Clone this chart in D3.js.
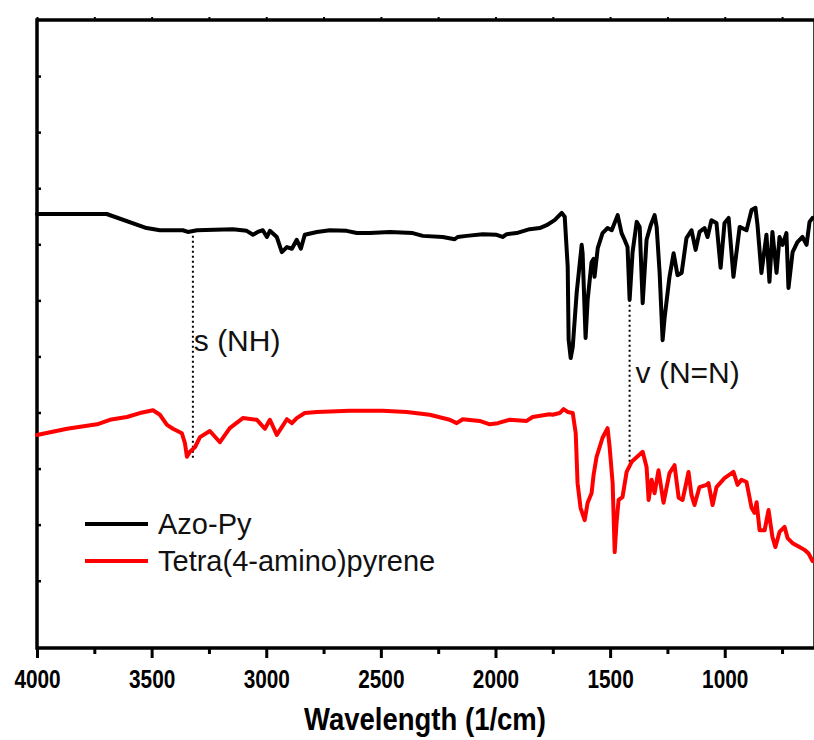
<!DOCTYPE html>
<html>
<head>
<meta charset="utf-8">
<script src="https://cdn.jsdelivr.net/npm/d3@7"></script>
<style>
  html, body { margin: 0; padding: 0; background: #fff; }
  #chart { width: 814px; height: 740px; overflow: hidden; }
</style>
</head>
<body>
<div id="chart"></div>
<script>
// wavenumber (1/cm), transmittance (a.u.)
const azoPy = [
  [4000, 65.4], [3696, 65.4], [3522, 62.9], [3464, 62.5], [3364, 62.5], [3342, 62.2],
  [3302, 62.5], [3146, 62.7], [3085, 62.4], [3058, 61.7], [3037, 62.2], [3015, 62.5],
  [2997, 61.3], [2984, 62.4], [2954, 61.3], [2932, 58.6], [2910, 59.5], [2888, 59.2],
  [2867, 60.8], [2849, 59.2], [2832, 61.7], [2779, 62.2], [2723, 62.5], [2649, 62.4],
  [2605, 62.0], [2548, 62.0], [2461, 62.2], [2361, 62.0], [2317, 61.5], [2230, 61.3],
  [2178, 60.9], [2165, 61.3], [2126, 61.5], [2056, 61.8], [1995, 61.7], [1969, 61.3],
  [1951, 61.8], [1908, 62.0], [1851, 62.7], [1807, 62.9], [1777, 63.4], [1742, 64.3],
  [1711, 65.6], [1698, 64.9], [1685, 56.0], [1681, 43.0], [1672, 39.7], [1663, 41.7],
  [1646, 51.3], [1624, 59.9], [1620, 58.4], [1607, 43.3], [1598, 50.1], [1581, 56.8],
  [1572, 57.4], [1568, 54.2], [1554, 59.3], [1533, 62.0], [1511, 62.9], [1493, 62.5],
  [1467, 65.2], [1450, 62.0], [1437, 60.8], [1424, 59.5], [1415, 50.1], [1402, 58.6],
  [1384, 64.0], [1371, 63.1], [1358, 49.5], [1341, 60.8], [1323, 63.4], [1306, 65.2],
  [1297, 63.1], [1284, 54.9], [1271, 42.9], [1262, 47.0], [1241, 54.2], [1223, 58.4],
  [1206, 54.5], [1188, 54.9], [1167, 61.1], [1145, 62.5], [1127, 59.0], [1110, 62.2],
  [1088, 62.9], [1075, 61.3], [1058, 64.3], [1036, 63.8], [1018, 55.8], [1001, 63.8],
  [983, 64.7], [962, 54.2], [935, 63.1], [905, 62.5], [883, 66.1], [866, 66.5],
  [857, 63.4], [840, 54.9], [818, 61.7], [805, 53.3], [792, 62.2], [774, 54.9],
  [761, 61.3], [748, 59.9], [731, 62.0], [722, 52.2], [704, 58.6], [683, 60.4],
  [661, 61.3], [643, 59.9], [630, 64.0], [617, 64.7]
];

const tetraAmino = [
  [4000, 26.0], [3869, 27.1], [3738, 27.9], [3682, 28.7], [3608, 29.2], [3551, 29.9],
  [3494, 30.4], [3464, 29.6], [3433, 27.8], [3407, 27.1], [3368, 26.3], [3355, 24.6],
  [3346, 22.1], [3333, 23.0], [3311, 23.8], [3289, 25.6], [3246, 26.7], [3202, 24.7],
  [3159, 27.2], [3102, 29.0], [3041, 28.7], [3028, 28.1], [3006, 27.1], [2984, 28.7],
  [2954, 26.0], [2932, 27.4], [2910, 28.8], [2888, 28.1], [2867, 29.0], [2832, 29.9],
  [2779, 30.1], [2636, 30.3], [2492, 30.3], [2387, 30.1], [2287, 29.6], [2200, 28.7],
  [2169, 28.1], [2143, 28.8], [2069, 28.5], [2025, 27.9], [1990, 28.1], [1938, 28.7],
  [1864, 28.5], [1838, 29.2], [1764, 29.7], [1751, 29.6], [1720, 29.9], [1703, 30.6],
  [1685, 30.1], [1663, 29.9], [1650, 26.3], [1642, 17.4], [1629, 13.0], [1611, 10.8],
  [1598, 13.9], [1581, 15.6], [1572, 18.9], [1559, 22.1], [1533, 25.5], [1511, 27.2],
  [1502, 23.8], [1489, 17.4], [1480, 5.1], [1472, 10.3], [1463, 14.4], [1446, 14.9],
  [1428, 19.4], [1406, 21.2], [1358, 23.0], [1341, 20.3], [1332, 14.4], [1319, 18.0],
  [1306, 15.6], [1289, 19.7], [1267, 13.9], [1241, 19.2], [1219, 20.6], [1201, 14.8],
  [1184, 14.4], [1167, 17.6], [1158, 19.4], [1145, 15.3], [1132, 13.5], [1110, 16.7],
  [1079, 17.1], [1071, 17.4], [1053, 13.5], [1036, 16.7], [1001, 18.3], [962, 19.4],
  [944, 17.1], [927, 18.0], [905, 17.6], [883, 13.0], [870, 12.1], [861, 14.0],
  [848, 9.0], [826, 9.0], [809, 12.6], [792, 7.8], [779, 6.0], [761, 8.7],
  [739, 9.6], [726, 7.6], [704, 6.7], [674, 6.0], [652, 5.5], [635, 4.9], [617, 3.5]
];

const seriesNames = ["Azo-Py", "Tetra(4-amino)pyrene"];
const seriesColors = ["#000000", "#ff0000"];

const majorTicks = [4000, 3500, 3000, 2500, 2000, 1500, 1000];
const minorTicks = [3750, 3250, 2750, 2250, 1750, 1250, 750];
const yTicks = [0, 10, 20, 30, 40, 50, 60, 70, 80, 90];

// dotted markers: label, wavenumber, top/bottom of the dotted line, label position
const markerLabels = ["s (NH)", "v (N=N)"];
const markerWn = [3320, 1415];
const markerTop = [62.4, 50.1];
const markerBottom = [21.9, 21.0];
const markerTextWn = [3316, 1389];
const markerTextT = [41.0, 35.3];

const margin = { top: 20, left: 37, right: 1, bottom: 92 };
const W = 814, H = 740;
const narrow = 0.8; // condensed look of the axis fonts

const svg = d3.select("#chart").append("svg")
  .attr("width", W)
  .attr("height", H)
  .style("font-family", "'Liberation Sans', Arial, sans-serif");

const x = d3.scaleLinear().domain([4000, 615]).range([margin.left, W - margin.right]);
const y = d3.scaleLinear().domain([-12, 100]).range([H - margin.bottom, margin.top]);

const x0 = x.range()[0], x1 = x.range()[1];
const yBot = y.range()[0], yTop = y.range()[1];

// bottom axis: major ticks with labels, minor ticks without
const xAxis = svg.append("g")
  .attr("transform", `translate(0,${yBot})`)
  .call(d3.axisBottom(x).tickValues(majorTicks).tickSize(10).tickPadding(12).tickFormat(d3.format("d")));
xAxis.select(".domain").remove();
xAxis.selectAll(".tick line").attr("stroke-width", 3);
xAxis.selectAll(".tick text")
  .attr("fill", "#000")
  .attr("transform", `scale(${narrow},1)`)
  .style("font-weight", "bold")
  .style("font-size", "26px");

const xMinor = svg.append("g")
  .attr("transform", `translate(0,${yBot})`)
  .call(d3.axisBottom(x).tickValues(minorTicks).tickSize(6).tickFormat(""));
xMinor.select(".domain").remove();
xMinor.selectAll(".tick line").attr("stroke-width", 3);

// small marks on the top edge
const xTop = svg.append("g")
  .attr("transform", `translate(0,${yTop})`)
  .call(d3.axisTop(x).tickValues(majorTicks.concat(minorTicks)).tickSize(3).tickFormat(""));
xTop.select(".domain").remove();
xTop.selectAll(".tick line").attr("stroke-width", 2);

// left axis: short inward ticks, no labels
const yAxis = svg.append("g")
  .attr("transform", `translate(${x0},0)`)
  .call(d3.axisLeft(y).tickValues(yTicks).tickSize(-4).tickFormat(""));
yAxis.select(".domain").remove();
yAxis.selectAll(".tick line").attr("stroke-width", 2.5);

// frame
svg.append("rect")
  .attr("x", x0)
  .attr("y", yTop)
  .attr("width", x1 + 2 - x0)
  .attr("height", yBot - yTop)
  .attr("fill", "none")
  .attr("stroke", "#000")
  .attr("stroke-width", 3.5);

svg.append("text")
  .attr("transform", `translate(${(x0 + x1) / 2},730) scale(0.86,1)`)
  .attr("text-anchor", "middle")
  .style("font-weight", "bold")
  .style("font-size", "32px")
  .text("Wavelength (1/cm)");

// dotted marker lines
markerLabels.forEach((lab, i) => {
  svg.append("line")
    .attr("x1", x(markerWn[i]))
    .attr("x2", x(markerWn[i]))
    .attr("y1", y(markerTop[i]))
    .attr("y2", y(markerBottom[i]))
    .attr("stroke", "#000")
    .attr("stroke-width", 2)
    .attr("stroke-dasharray", "2,3");

  svg.append("text")
    .attr("x", x(markerTextWn[i]))
    .attr("y", y(markerTextT[i]))
    .style("font-size", "30px")
    .attr("fill", "#111")
    .text(lab);
});

const line = d3.line()
  .x(d => x(d[0]))
  .y(d => y(d[1]));

[tetraAmino, azoPy].forEach((s, k) => {
  svg.append("path")
    .datum(s)
    .attr("fill", "none")
    .attr("stroke", seriesColors[1 - k])
    .attr("stroke-width", 4)
    .attr("stroke-linejoin", "round")
    .attr("stroke-linecap", "round")
    .attr("d", line);
});

// legend
const legend = svg.append("g").attr("transform", "translate(85,524)");
seriesNames.forEach((name, i) => {
  const g = legend.append("g").attr("transform", `translate(0,${i * 37})`);
  g.append("line")
    .attr("x1", 0).attr("x2", 63)
    .attr("stroke", seriesColors[i])
    .attr("stroke-width", 4);
  g.append("text")
    .attr("x", 73)
    .attr("y", 10)
    .style("font-size", "29px")
    .attr("fill", "#111")
    .text(name);
});
</script>
</body>
</html>
